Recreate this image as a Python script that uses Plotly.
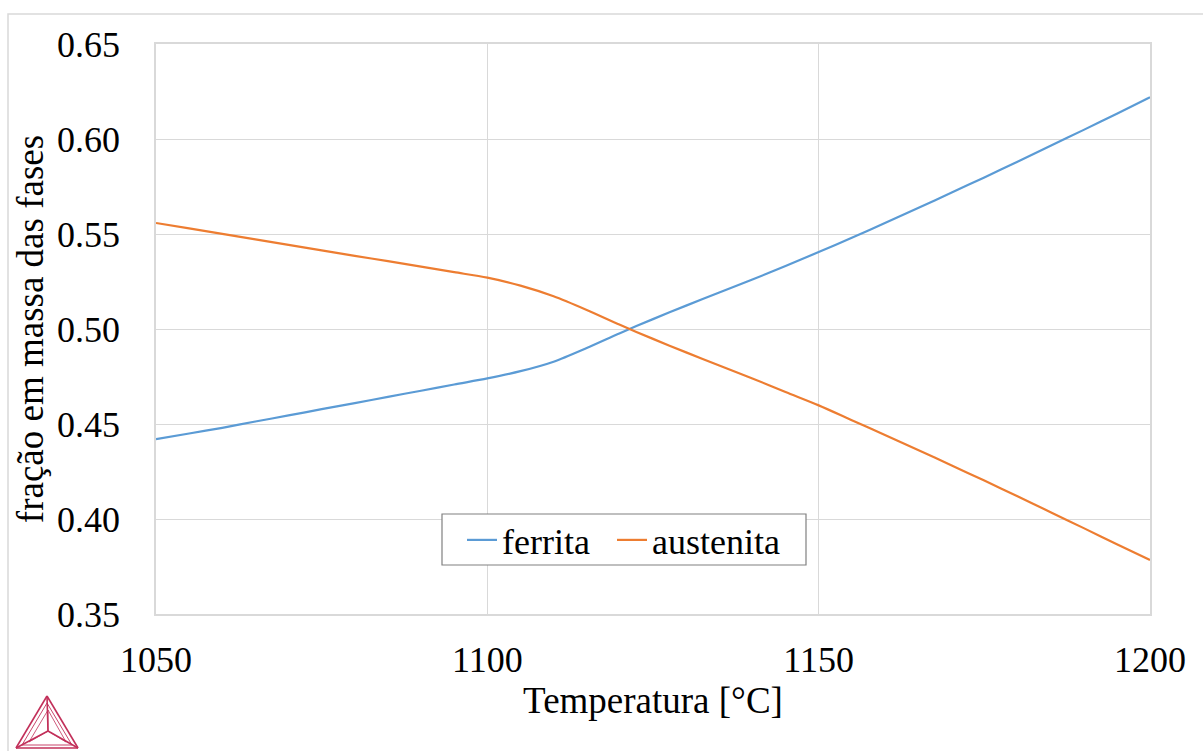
import plotly.graph_objects as go

temperatura = [1050, 1055, 1060, 1065, 1070, 1075, 1080, 1085, 1090, 1095,
               1100, 1105, 1110, 1115, 1120, 1125, 1130, 1135, 1140, 1145,
               1150, 1155, 1160, 1165, 1170, 1175, 1180, 1185, 1190, 1195, 1200]
ferrita = [0.442, 0.445, 0.448, 0.4513, 0.4545, 0.4578, 0.461, 0.4643, 0.4675, 0.4708,
           0.474, 0.4778, 0.4828, 0.4900, 0.4978, 0.5052, 0.5123, 0.5192, 0.526, 0.5332,
           0.5405, 0.548, 0.5558, 0.5637, 0.5717, 0.5798, 0.588, 0.5964, 0.6048, 0.6133, 0.622]
austenita = [0.5558, 0.553, 0.5501, 0.5472, 0.5443, 0.5414, 0.5385, 0.5357, 0.5328, 0.5299,
             0.527, 0.5228, 0.5172, 0.5100, 0.5022, 0.4948, 0.4877, 0.4808, 0.474, 0.4668,
             0.4598, 0.452, 0.4442, 0.4363, 0.4283, 0.4202, 0.412, 0.4036, 0.3952, 0.3867, 0.3784]
x_ticks = [1050, 1100, 1150, 1200]
y_ticks = [0.35, 0.40, 0.45, 0.50, 0.55, 0.60, 0.65]

W, H = 1203, 751
L, R, T, B = 156, 53, 44, 137
PW, PH = W - L - R, H - T - B

def px(x):
    return (x - L) / PW

def py(y):
    return (H - B - y) / PH

FONT = "Liberation Serif, Times New Roman, serif"

fig = go.Figure()
fig.add_trace(go.Scatter(x=temperatura, y=ferrita, mode="lines", name="ferrita",
                         legend="legend",
                         line=dict(color="#5B9BD5", width=2.2, shape="spline", smoothing=0.8)))
fig.add_trace(go.Scatter(x=temperatura, y=austenita, mode="lines", name="austenita",
                         legend="legend2",
                         line=dict(color="#ED7D31", width=2.2, shape="spline", smoothing=0.8)))

shapes = []
# outer chart border (extends beyond image right/bottom)
shapes.append(dict(type="rect", xref="paper", yref="paper",
                   x0=px(8), x1=px(1215), y0=py(14), y1=py(770),
                   line=dict(color="#d9d9d9", width=1.5), layer="below"))
# legend frame
shapes.append(dict(type="rect", xref="paper", yref="paper",
                   x0=px(442), x1=px(806), y0=py(514), y1=py(565),
                   fillcolor="white", line=dict(color="#808080", width=1.2), layer="above"))

# Thermo-Calc style logo (decorative)
logo_col = "#C2305A"
A, BL, BR, C = (47, 696), (16, 748), (78, 748), (48, 731)
def seg(p, q, w=1.2):
    shapes.append(dict(type="line", xref="paper", yref="paper",
                       x0=px(p[0]), y0=py(p[1]), x1=px(q[0]), y1=py(q[1]),
                       line=dict(color=logo_col, width=w)))
for p, q in [(A, BL), (BL, BR), (BR, A), (A, C), (BL, C), (BR, C)]:
    seg(p, q, 1.6)
A2, BL2, BR2 = (47, 703), (22, 745), (72, 745)
for p, q in [(A2, BL2), (BL2, BR2), (BR2, A2)]:
    seg(p, q, 0.9)
A3, BL3, BR3 = (48, 710), (29, 742), (66, 742)
for p, q in [(A3, C), (BL3, C), (BR3, C), (A3, BL3), (BR3, A3)]:
    seg(p, q, 0.8)

leg_common = dict(orientation="h", yanchor="middle", xanchor="left",
                  bgcolor="rgba(0,0,0,0)", borderwidth=0,
                  font=dict(family=FONT, size=36, color="#000000"), itemwidth=30)

fig.update_layout(
    width=W, height=H,
    margin=dict(l=L, r=R, t=T, b=B, autoexpand=False),
    paper_bgcolor="white", plot_bgcolor="white",
    font=dict(family=FONT, color="#000000", size=36),
    showlegend=True,
    legend=dict(x=px(462), y=py(540), **leg_common),
    legend2=dict(x=px(612), y=py(540), **leg_common),
    shapes=shapes,
)
fig.update_xaxes(range=[1050, 1200], tickvals=x_ticks, ticktext=[str(v) for v in x_ticks],
                 showgrid=True, gridcolor="#d9d9d9", gridwidth=1,
                 showline=True, linecolor="#d9d9d9", linewidth=1.5, mirror=True,
                 zeroline=False, ticks="", ticklabelstandoff=13,
                 tickfont=dict(family=FONT, size=36),
                 title=dict(text="Temperatura [°C]", font=dict(family=FONT, size=37), standoff=8),
                 automargin=False)
fig.update_yaxes(range=[0.35, 0.65], tickvals=y_ticks, ticktext=[f"{v:.2f}" for v in y_ticks],
                 showgrid=True, gridcolor="#d9d9d9", gridwidth=1,
                 showline=True, linecolor="#d9d9d9", linewidth=1.5, mirror=True,
                 zeroline=False, ticks="", ticklabelstandoff=27,
                 tickfont=dict(family=FONT, size=36),
                 title=dict(text="fração em massa das fases", font=dict(family=FONT, size=37), standoff=2),
                 automargin=False)

fig.write_html("out.html")
